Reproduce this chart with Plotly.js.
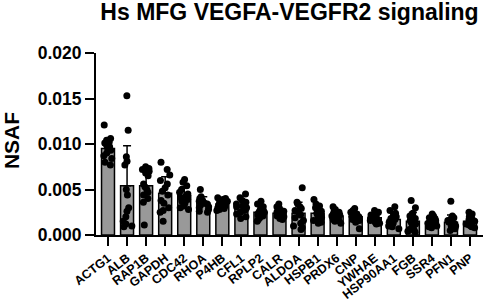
<!DOCTYPE html>
<html>
<head>
<meta charset="utf-8">
<script src="https://cdn.plot.ly/plotly-3.0.1.min.js"></script>
<style>html,body{margin:0;padding:0;background:#fff;}#chart{width:498px;height:304px;}</style>
</head>
<body>
<div id="chart"></div>
<script>
const genes = ["ACTG1","ALB","RAP1B","GAPDH","CDC42","RHOA","P4HB","CFL1","RPLP2","CALR","ALDOA","HSPB1","PRDX6","CNP","YWHAE","HSP90AA1","FGB","SSR4","PFN1","PNP"];
const means = [0.0095,0.0054,0.0054,0.0046,0.0043,0.0035,0.0034,0.0031,0.0025,0.0024,0.0024,0.0024,0.0021,0.0020,0.0019,0.0017,0.0015,0.0014,0.0014,0.0015];
const sds = [0.0011,0.0044,0.0017,0.0018,0.0010,0.0007,0.0005,0.0008,0.0007,0.0005,0.0012,0.0008,0.0005,0.0005,0.0005,0.0007,0.0010,0.0005,0.0008,0.0005];
const samples = {
  ACTG1:[0.0121,0.0106,0.0104,0.0102,0.0101,0.0099,0.0097,0.0095,0.0093,0.0090,0.0087,0.0084,0.0080,0.0077],
  ALB:[0.0153,0.0115,0.0086,0.0081,0.0077,0.0050,0.0044,0.0030,0.0026,0.0020,0.0015,0.0012,0.0010,0.0009],
  RAP1B:[0.0075,0.0073,0.0072,0.0070,0.0068,0.0065,0.0056,0.0053,0.0050,0.0047,0.0044,0.0040,0.0036,0.0011],
  GAPDH:[0.0080,0.0072,0.0066,0.0060,0.0056,0.0052,0.0048,0.0044,0.0038,0.0035,0.0030,0.0027,0.0025,0.0015],
  CDC42:[0.0061,0.0058,0.0054,0.0050,0.0047,0.0045,0.0043,0.0041,0.0039,0.0037,0.0035,0.0032,0.0030,0.0028],
  RHOA:[0.0050,0.0042,0.0040,0.0038,0.0037,0.0036,0.0035,0.0034,0.0033,0.0031,0.0030,0.0028,0.0026,0.0025],
  P4HB:[0.0041,0.0040,0.0039,0.0038,0.0037,0.0036,0.0034,0.0033,0.0032,0.0031,0.0030,0.0029,0.0028,0.0027],
  CFL1:[0.0045,0.0041,0.0038,0.0036,0.0034,0.0032,0.0031,0.0030,0.0028,0.0027,0.0025,0.0023,0.0020,0.0018],
  RPLP2:[0.0037,0.0034,0.0031,0.0029,0.0027,0.0026,0.0025,0.0024,0.0023,0.0022,0.0021,0.0019,0.0017,0.0015],
  CALR:[0.0034,0.0031,0.0029,0.0027,0.0026,0.0025,0.0024,0.0023,0.0022,0.0021,0.0020,0.0019,0.0018,0.0017],
  ALDOA:[0.0052,0.0036,0.0034,0.0031,0.0029,0.0027,0.0025,0.0022,0.0019,0.0016,0.0013,0.0010,0.0008,0.0006],
  HSPB1:[0.0039,0.0034,0.0032,0.0030,0.0028,0.0026,0.0024,0.0022,0.0021,0.0019,0.0018,0.0016,0.0014,0.0013],
  PRDX6:[0.0031,0.0028,0.0026,0.0025,0.0023,0.0022,0.0021,0.0020,0.0019,0.0018,0.0017,0.0016,0.0015,0.0013],
  CNP:[0.0029,0.0027,0.0025,0.0024,0.0023,0.0022,0.0021,0.0020,0.0019,0.0018,0.0017,0.0016,0.0014,0.0007],
  YWHAE:[0.0027,0.0025,0.0024,0.0022,0.0021,0.0020,0.0019,0.0018,0.0017,0.0016,0.0015,0.0014,0.0013,0.0012],
  HSP90AA1:[0.0031,0.0027,0.0024,0.0022,0.0020,0.0018,0.0017,0.0016,0.0014,0.0013,0.0012,0.0010,0.0009,0.0007],
  FGB:[0.0038,0.0030,0.0024,0.0021,0.0018,0.0016,0.0014,0.0012,0.0010,0.0008,0.0006,0.0005,0.0004,0.0003],
  SSR4:[0.0023,0.0021,0.0019,0.0018,0.0017,0.0016,0.0015,0.0014,0.0013,0.0012,0.0011,0.0010,0.0009,0.0008],
  PFN1:[0.0037,0.0021,0.0019,0.0018,0.0016,0.0015,0.0014,0.0012,0.0011,0.0010,0.0009,0.0008,0.0007,0.0005],
  PNP:[0.0025,0.0023,0.0021,0.0020,0.0019,0.0017,0.0016,0.0015,0.0013,0.0012,0.0011,0.0010,0.0009,0.0008]
};
const yTicks = [0,0.005,0.010,0.015,0.020];
const yTickText = ["0.000","0.005","0.010","0.015","0.020"];

const ptX = [], ptY = [];
genes.forEach(g => samples[g].forEach(v => { ptX.push(g); ptY.push(v); }));

const FONT = "Liberation Sans, Arial, Helvetica, sans-serif";

const bars = {
  type: 'bar', x: genes, y: means, width: 0.68,
  marker: {color: '#999999', line: {color: '#000', width: 1.5}},
  error_y: {type: 'data', symmetric: false, array: sds, arrayminus: sds.map(() => 0), color: '#000', thickness: 1.5, width: 4},
  hoverinfo: 'skip'
};
const pts = {
  type: 'box', x: ptX, y: ptY, width: 0.68,
  boxpoints: 'all', jitter: 0.85, pointpos: 0,
  fillcolor: 'rgba(0,0,0,0)', line: {color: 'rgba(0,0,0,0)', width: 0},
  whiskerwidth: 0,
  marker: {color: '#000', size: 7, line: {width: 0}},
  hoverinfo: 'skip'
};

const layout = {
  width: 498, height: 304,
  margin: {l: 96, r: 15, t: 53, b: 69},
  paper_bgcolor: '#fff', plot_bgcolor: '#fff',
  showlegend: false,
  title: {text: 'Hs MFG VEGFA-VEGFR2 signaling', font: {family: FONT, size: 23, weight: 'bold', color: '#000'},
          x: 0.5, xref: 'paper', y: 0.962, yref: 'container', yanchor: 'middle'},
  xaxis: {type: 'category', range: [-0.63, 19.68], showline: true, linecolor: '#000', linewidth: 2,
          ticks: 'outside', ticklen: 9, tickwidth: 2, tickcolor: '#000', tickangle: -38,
          tickfont: {family: FONT, size: 12.5, weight: 'bold', color: '#000'}, showgrid: false, zeroline: false, fixedrange: true},
  yaxis: {range: [0, 0.020], tickvals: yTicks, ticktext: yTickText, showline: true, linecolor: '#000', linewidth: 2,
          ticks: 'outside', ticklen: 9, tickwidth: 2, tickcolor: '#000',
          tickfont: {family: FONT, size: 17.5, weight: 'bold', color: '#000'}, showgrid: false, zeroline: false},
  annotations: [{text: 'NSAF', xref: 'paper', yref: 'paper', x: -0.2196, y: 0.516, xanchor: 'center', yanchor: 'middle',
                 textangle: -90, showarrow: false, font: {family: FONT, size: 21, weight: 'bold', color: '#000'}}],
  boxmode: 'overlay'
};

Plotly.newPlot('chart', [bars, pts], layout, {staticPlot: true, displayModeBar: false});
</script>
</body>
</html>
